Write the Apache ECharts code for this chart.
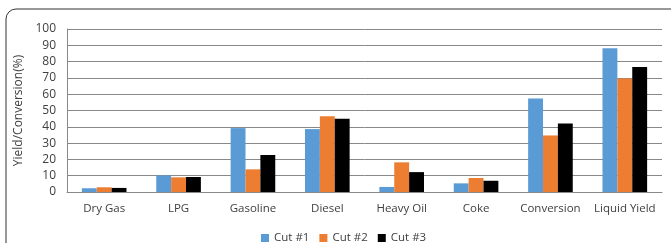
<!DOCTYPE html>
<html>
<head>
<meta charset="utf-8">
<script src="https://cdn.jsdelivr.net/npm/echarts@6/dist/echarts.min.js"></script>
<style>
  html, body { margin: 0; padding: 0; background: #fff; }
  #echart { width: 671px; height: 243px; }
</style>
</head>
<body>
<div id="echart"></div>
<script>
var categories = ['Dry Gas', 'LPG', 'Gasoline', 'Diesel', 'Heavy Oil', 'Coke', 'Conversion', 'Liquid Yield'];
var cut1 = [2.3, 10.2, 39.2, 38.6, 3.1, 5.3, 57.4, 88.2];
var cut2 = [2.9, 9.0, 13.9, 46.5, 18.2, 8.6, 34.7, 69.6];
var cut3 = [2.5, 9.2, 22.7, 44.9, 12.2, 6.9, 42.0, 76.7];
var seriesNames = ['Cut #1', 'Cut #2', 'Cut #3'];

var font = 'Open Sans';
var echart = echarts.init(document.getElementById('echart'));
echart.setOption({
    animation: false,
    graphic: [{
        type: 'rect',
        shape: { x: 6, y: 9, width: 700, height: 300, r: 10 },
        style: { fill: 'none', stroke: '#333', lineWidth: 1 }
    }],
    legend: {
        top: 227,
        left: 256,
        itemWidth: 8,
        itemHeight: 8,
        itemGap: 10,
        icon: 'rect',
        textStyle: { fontFamily: font, fontSize: 11.5, color: '#404040' },
        data: seriesNames
    },
    grid: { left: 67, right: 9, top: 29, bottom: 51 },
    xAxis: {
        type: 'category',
        data: categories,
        axisTick: { show: false },
        axisLine: { lineStyle: { color: '#888' } },
        axisLabel: { interval: 0, fontFamily: font, fontSize: 11.5, color: '#404040', margin: 11 }
    },
    yAxis: {
        type: 'value',
        min: 0,
        max: 100,
        interval: 10,
        name: 'Yield/Conversion(%)',
        nameLocation: 'middle',
        nameGap: 40,
        nameTextStyle: { fontFamily: font, fontSize: 12, color: '#404040' },
        axisLine: { show: true, lineStyle: { color: '#888' } },
        axisLabel: { fontFamily: font, fontSize: 12, color: '#404040', margin: 11 },
        splitLine: { lineStyle: { color: '#888' } }
    },
    series: [
        { name: seriesNames[0], type: 'bar', data: cut1, color: '#5B9BD5', barGap: '0%', barCategoryGap: '40%' },
        { name: seriesNames[1], type: 'bar', data: cut2, color: '#ED7D31' },
        { name: seriesNames[2], type: 'bar', data: cut3, color: '#000000' }
    ]
});
</script>
</body>
</html>
